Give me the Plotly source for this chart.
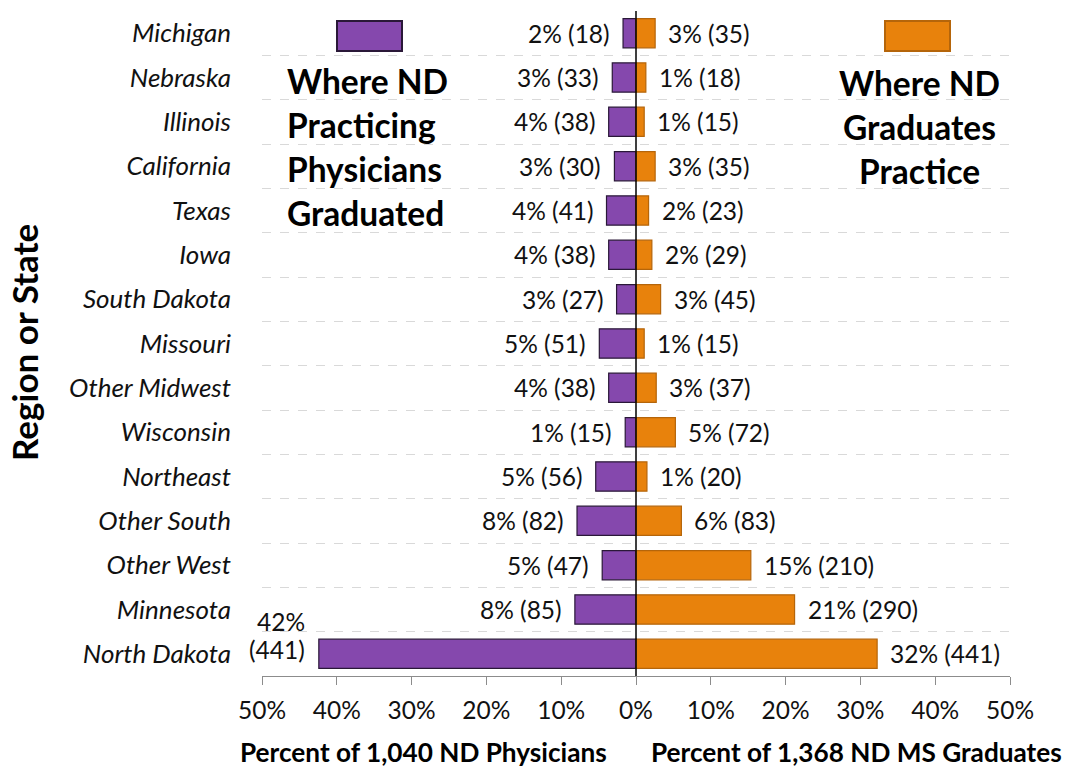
import plotly.graph_objects as go

# ---- data ----
categories = ["Michigan", "Nebraska", "Illinois", "California", "Texas", "Iowa",
              "South Dakota", "Missouri", "Other Midwest", "Wisconsin", "Northeast",
              "Other South", "Other West", "Minnesota", "North Dakota"]
physician_counts = [18, 33, 38, 30, 41, 38, 27, 51, 38, 15, 56, 82, 47, 85, 441]
graduate_counts = [35, 18, 15, 35, 23, 29, 45, 15, 37, 72, 20, 83, 210, 290, 441]
physician_total = 1040
graduate_total = 1368
tick_values = [-50, -40, -30, -20, -10, 0, 10, 20, 30, 40, 50]
tick_labels = ["50%", "40%", "30%", "20%", "10%", "0%", "10%", "20%", "30%", "40%", "50%"]

phys_pct = [c / physician_total * 100 for c in physician_counts]
grad_pct = [c / graduate_total * 100 for c in graduate_counts]

PURPLE = "#8548AD"
PURPLE_LINE = "#2a1838"
ORANGE = "#E8820C"
ORANGE_LINE = "#B5650A"
FONT = "Lato"
LBL = 24.5

W, H = 1066, 768
ML, MR, MT, MB = 262, 56, 11, 92
PW, PH = W - ML - MR, H - MT - MB


def px(x):
    return (x - ML) / PW


def py(y):
    return (H - MB - y) / PH


fig = go.Figure()
fig.add_trace(go.Bar(
    y=categories, x=[-v for v in phys_pct], orientation="h", width=0.66,
    marker=dict(color=PURPLE, line=dict(color=PURPLE_LINE, width=1.2)),
    hoverinfo="skip", showlegend=False))
fig.add_trace(go.Bar(
    y=categories, x=grad_pct, orientation="h", width=0.66,
    marker=dict(color=ORANGE, line=dict(color=ORANGE_LINE, width=1.2)),
    hoverinfo="skip", showlegend=False))

annotations = []
for cat, p, c in zip(categories, phys_pct, physician_counts):
    if cat == "North Dakota":
        annotations.append(dict(x=-p, y=cat, xref="x", yref="y",
                                text=f"{round(p)}%", showarrow=False,
                                xanchor="right", yanchor="middle", xshift=-12, yshift=32,
                                font=dict(family=FONT, size=LBL, color="#111")))
        annotations.append(dict(x=-p, y=cat, xref="x", yref="y",
                                text=f"({c})", showarrow=False,
                                xanchor="right", yanchor="middle", xshift=-12, yshift=4,
                                font=dict(family=FONT, size=LBL, color="#111")))
    else:
        annotations.append(dict(x=-p, y=cat, xref="x", yref="y",
                                text=f"{round(p)}% ({c})", showarrow=False,
                                xanchor="right", yanchor="middle", xshift=-11,
                                font=dict(family=FONT, size=LBL, color="#111")))
for cat, p, c in zip(categories, grad_pct, graduate_counts):
    annotations.append(dict(x=p, y=cat, xref="x", yref="y",
                            text=f"{round(p)}% ({c})", showarrow=False,
                            xanchor="left", yanchor="middle", xshift=11,
                            font=dict(family=FONT, size=LBL, color="#111")))

# custom legend texts
left_lines = ["Where ND", "Practicing", "Physicians", "Graduated"]
left_ys = [81, 125, 169, 213]
for t, yy in zip(left_lines, left_ys):
    annotations.append(dict(x=px(285), y=py(yy), xref="paper", yref="paper", text=t,
                            showarrow=False, xanchor="left", yanchor="middle",
                            font=dict(family=FONT, size=33.5, color="#000", weight="bold")))
right_lines = ["Where ND", "Graduates", "Practice"]
right_ys = [83, 127, 171]
for t, yy in zip(right_lines, right_ys):
    annotations.append(dict(x=px(919), y=py(yy), xref="paper", yref="paper", text=t,
                            showarrow=False, xanchor="center", yanchor="middle",
                            font=dict(family=FONT, size=33.5, color="#000", weight="bold")))

# axis titles
annotations.append(dict(x=px(423), y=py(752), xref="paper", yref="paper",
                        text="Percent of 1,040 ND Physicians", showarrow=False,
                        xanchor="center", yanchor="middle",
                        font=dict(family=FONT, size=26.2, color="#000", weight="bold")))
annotations.append(dict(x=px(856), y=py(752), xref="paper", yref="paper",
                        text="Percent of 1,368 ND MS Graduates", showarrow=False,
                        xanchor="center", yanchor="middle",
                        font=dict(family=FONT, size=26.2, color="#000", weight="bold")))
annotations.append(dict(x=px(24), y=py(343), xref="paper", yref="paper",
                        text="Region or State", showarrow=False, textangle=-90,
                        xanchor="center", yanchor="middle",
                        font=dict(family=FONT, size=35, color="#000", weight="bold")))

shapes = [
    dict(type="rect", xref="paper", yref="paper", x0=px(337), x1=px(402), y0=py(51), y1=py(21),
         fillcolor=PURPLE, line=dict(color=PURPLE_LINE, width=2)),
    dict(type="rect", xref="paper", yref="paper", x0=px(885), x1=px(950), y0=py(51), y1=py(21),
         fillcolor=ORANGE, line=dict(color=ORANGE_LINE, width=2)),
    dict(type="line", xref="x", yref="paper", x0=0, x1=0, y0=0, y1=1,
         line=dict(color="#000", width=1.5), layer="above"),
]

fig.update_layout(
    width=W, height=H,
    margin=dict(l=ML, r=MR, t=MT, b=MB),
    paper_bgcolor="white", plot_bgcolor="white",
    barmode="overlay",
    font=dict(family=FONT, size=LBL, color="#000"),
    annotations=annotations, shapes=shapes,
    xaxis=dict(range=[-50, 50], tickvals=tick_values, ticktext=tick_labels,
               showgrid=False, zeroline=False, showline=True, linecolor="#8c8c8c", linewidth=1,
               ticks="outside", ticklen=8, tickcolor="#8c8c8c", tickwidth=1,
               tickfont=dict(family=FONT, size=LBL, color="#111"), ticklabelstandoff=5),
    yaxis=dict(type="category", categoryorder="array", categoryarray=categories,
               range=[len(categories) - 0.5, -0.5], autorange=False,
               tickson="boundaries", showgrid=True,
               gridcolor="#d9d9d9", griddash="dash", gridwidth=1, ticks="",
               showline=False, zeroline=False,
               tickfont=dict(family=FONT, size=26, color="#111", style="italic"),
               ticklabelstandoff=30),
)

fig.write_html("out.html", config={"displayModeBar": False},
               post_script="document.body.style.margin='0';document.body.style.overflow='hidden';")
